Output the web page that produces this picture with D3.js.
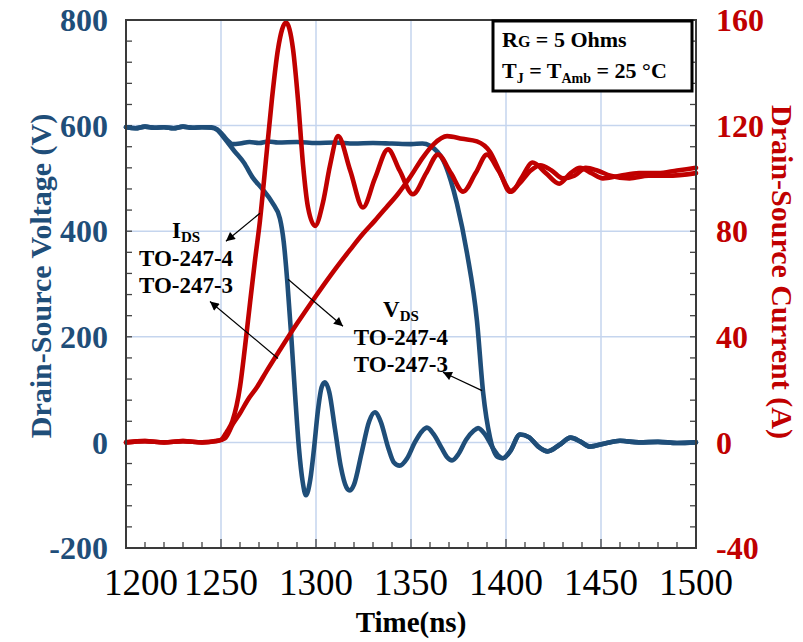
<!DOCTYPE html>
<html>
<head>
<meta charset="utf-8">
<script src="https://cdn.jsdelivr.net/npm/d3@7"></script>
<style>
  body { margin: 0; background: #fff; }
  svg text { font-family: "Liberation Serif", "Times New Roman", serif; }
</style>
</head>
<body>
<div id="chart"></div>
<script>
'use strict';

// ---- data (time in ns) ----
const timeTicks = [1200, 1250, 1300, 1350, 1400, 1450, 1500];
const voltTicks = [-200, 0, 200, 400, 600, 800];
const ampTicks = [-40, 0, 40, 80, 120, 160];

const vdsTO2474 = [
  [1200, 597], [1205, 595], [1210, 598], [1215, 596], [1220, 597], [1225, 595], [1230, 598],
  [1235, 596], [1240, 597], [1245, 596], [1248, 592], [1252, 575], [1257, 552], [1262, 530],
  [1267, 500], [1271.5, 481], [1277, 454], [1281, 424], [1283, 380], [1285, 300], [1287, 200],
  [1289, 90], [1291, -10], [1293, -75], [1294.7, -100], [1297, -70], [1299, -10], [1301, 60],
  [1303, 105], [1304.7, 114], [1307, 95], [1310, 25], [1313, -45], [1316, -85], [1317.9, -91],
  [1320, -80], [1324, -20], [1328, 40], [1331, 57], [1334, 40], [1338, -10], [1341, -38],
  [1344, -44], [1348, -30], [1352, 0], [1356, 22], [1358.4, 28], [1362, 15], [1366, -10],
  [1369, -28], [1371.6, -34], [1375, -22], [1379, 5], [1383, 22], [1385.3, 27], [1389, 15],
  [1393, -10], [1396, -25], [1398.4, -30], [1402, -18], [1407.4, 15], [1412, 10], [1417, -8],
  [1422, -17], [1428, -5], [1434, 9], [1439, 2], [1444, -8], [1452, -2], [1460, 3], [1470, 0],
  [1480, 1], [1490, -1], [1500, 0]
];

const vdsTO2473 = [
  [1200, 597], [1205, 595], [1210, 598], [1215, 596], [1220, 597], [1225, 595], [1230, 598],
  [1235, 596], [1240, 597], [1245, 597], [1248, 593], [1251, 582], [1254, 570], [1256, 565],
  [1260, 566], [1265, 569], [1270, 567], [1275, 570], [1280, 568], [1290, 569], [1300, 567],
  [1310, 568], [1320, 566], [1330, 567], [1340, 566], [1350, 565], [1356, 566], [1360, 562],
  [1364, 550], [1367, 534], [1371, 495], [1374.2, 452], [1379.5, 358], [1384.7, 231],
  [1388, 93], [1391.6, 9], [1395.8, -28], [1398.4, -30], [1402, -18], [1407.4, 15], [1412, 10],
  [1417, -8], [1422, -17], [1428, -5], [1434, 9], [1439, 2], [1444, -8], [1452, -2], [1460, 3],
  [1470, 0], [1480, 1], [1490, -1], [1500, 0]
];

const idsTO2474 = [
  [1200, 0], [1210, 0.5], [1220, 0], [1230, 0.5], [1240, 0], [1247, 0.5], [1250, 1], [1253, 4],
  [1256, 8], [1260, 21], [1262.6, 36], [1265.3, 53], [1267.9, 69], [1270.5, 84], [1274.2, 111],
  [1276.8, 130], [1280, 149], [1284.2, 159], [1287.9, 149], [1290.5, 130], [1293.2, 105],
  [1295.8, 89], [1299.5, 82], [1303.7, 91], [1307.4, 105], [1311.6, 116], [1318, 103],
  [1324.7, 89], [1331, 100], [1337.9, 111], [1344, 103], [1351, 94], [1358, 102], [1364.2, 109],
  [1371, 102], [1377.4, 95], [1384, 102], [1390, 109], [1396, 103], [1403, 95], [1408, 100],
  [1414, 106], [1421, 102], [1428, 98], [1434, 102], [1439, 104], [1445, 102], [1451, 100],
  [1460, 101], [1470, 102], [1480, 102], [1490, 103], [1500, 104]
];

const idsTO2473 = [
  [1200, 0], [1210, 0.5], [1220, 0], [1230, 0.5], [1240, 0], [1248, 0.5], [1252, 1.5],
  [1256.3, 7], [1260, 11], [1264, 16], [1269, 21], [1274, 27], [1281, 35], [1290, 45],
  [1299.5, 55], [1307.4, 63], [1312.6, 68], [1318, 73], [1324.7, 79], [1331, 84], [1337, 89],
  [1343, 94], [1350, 101], [1356.3, 108], [1362, 113], [1369, 116], [1377, 115], [1384.7, 114],
  [1391.6, 110], [1397, 102], [1402, 95], [1407, 98], [1413, 103], [1418, 105], [1424, 103],
  [1430, 100], [1436, 101], [1442, 104], [1448, 103], [1455, 101], [1465, 100], [1475, 101],
  [1485, 101], [1500, 102]
];

// annotations: label anchor [t, V] and arrows [[t0,V0],[t1,V1]] on the voltage scale
const idsLabel = [1231.6, 388];
const vdsLabel = [1344.7, 237];
const arrows = [
  [[1270.5, 434], [1252.6, 381]],
  [[1280, 159], [1244.2, 267]],
  [[1285.3, 309], [1314.2, 220]],
  [[1387.4, 98], [1366.8, 133]]
];

(function () {

  const blue = '#1f4e79';
  const red = '#c00000';
  const W = 803, H = 642;
  const left = 126, right = 696, plotTop = 20, bottom = 548;

  const x = d3.scaleLinear().domain([1200, 1500]).range([left, right]);
  const yV = d3.scaleLinear().domain([-200, 800]).range([bottom, plotTop]);
  const yI = d3.scaleLinear().domain([-40, 160]).range([bottom, plotTop]);

  const svg = d3.select('#chart').append('svg')
    .attr('width', W).attr('height', H);

  svg.append('defs').append('marker')
    .attr('id', 'head')
    .attr('viewBox', '0 0 10 10')
    .attr('refX', 10).attr('refY', 5)
    .attr('markerWidth', 11).attr('markerHeight', 9)
    .attr('markerUnits', 'userSpaceOnUse')
    .attr('orient', 'auto')
    .append('path').attr('d', 'M0,0 L10,5 L0,10 z').attr('fill', '#000');

  // grid
  const grid = svg.append('g').attr('stroke', '#c5d5ee').attr('stroke-width', 1.5);
  grid.selectAll('line.v').data(timeTicks.slice(1, -1)).enter().append('line')
    .attr('x1', d => x(d)).attr('x2', d => x(d)).attr('y1', plotTop).attr('y2', bottom);
  grid.selectAll('line.h').data(voltTicks.slice(1, -1)).enter().append('line')
    .attr('y1', d => yV(d)).attr('y2', d => yV(d)).attr('x1', left).attr('x2', right);

  // minor / major ticks pointing inward
  const tickG = svg.append('g').attr('stroke', '#444').attr('stroke-width', 1.3);
  tickG.selectAll('line.b').data(d3.range(1200, 1501, 10)).enter().append('line')
    .attr('x1', d => x(d)).attr('x2', d => x(d))
    .attr('y1', bottom).attr('y2', d => bottom - (d % 50 === 0 ? 9 : 6));
  tickG.selectAll('line.l').data(d3.range(-200, 801, 40)).enter().append('line')
    .attr('x1', left).attr('x2', left + 6)
    .attr('y1', d => yV(d)).attr('y2', d => yV(d));
  tickG.selectAll('line.r').data(d3.range(-40, 161, 8)).enter().append('line')
    .attr('x1', right).attr('x2', right - 6)
    .attr('y1', d => yI(d)).attr('y2', d => yI(d));

  // traces
  const lineV = d3.line().x(d => x(d[0])).y(d => yV(d[1])).curve(d3.curveMonotoneX);
  const lineI = d3.line().x(d => x(d[0])).y(d => yI(d[1])).curve(d3.curveMonotoneX);

  const traces = svg.append('g').attr('fill', 'none').attr('stroke-width', 4.6)
    .attr('stroke-linejoin', 'round').attr('stroke-linecap', 'round');
  [vdsTO2473, vdsTO2474].forEach(s => traces.append('path').attr('d', lineV(s)).attr('stroke', blue));
  [idsTO2473, idsTO2474].forEach(s => traces.append('path').attr('d', lineI(s)).attr('stroke', red));

  // frame
  svg.append('rect')
    .attr('x', left).attr('y', plotTop).attr('width', right - left).attr('height', bottom - plotTop)
    .attr('fill', 'none').attr('stroke', '#3a3a3a').attr('stroke-width', 2);

  // tick labels
  svg.append('g').selectAll('text').data(voltTicks).enter().append('text')
    .attr('x', 108).attr('y', d => yV(d)).attr('dy', '0.35em')
    .attr('text-anchor', 'end').attr('font-size', 32).attr('font-weight', 'bold')
    .attr('fill', blue).text(d => d);

  svg.append('g').selectAll('text').data(ampTicks).enter().append('text')
    .attr('x', 716).attr('y', d => yI(d)).attr('dy', '0.35em')
    .attr('text-anchor', 'start').attr('font-size', 32).attr('font-weight', 'bold')
    .attr('fill', red).text(d => d);

  // the first time label sits a little right of its tick in the original
  svg.append('g').selectAll('text').data(timeTicks).enter().append('text')
    .attr('x', (d, i) => x(d) + (i === 0 ? 15 : 0)).attr('y', 595)
    .attr('text-anchor', 'middle').attr('font-size', 37)
    .attr('fill', '#000').text(d => d);

  // axis titles
  svg.append('text')
    .attr('transform', `translate(51, 276) rotate(-90)`)
    .attr('text-anchor', 'middle').attr('font-size', 30).attr('font-weight', 'bold')
    .attr('fill', blue).text('Drain-Source Voltage (V)');

  svg.append('text')
    .attr('transform', `translate(772, 272) rotate(90)`)
    .attr('text-anchor', 'middle').attr('font-size', 30).attr('font-weight', 'bold')
    .attr('fill', red).text('Drain-Source Current (A)');

  svg.append('text')
    .attr('x', (left + right) / 2).attr('y', 632)
    .attr('text-anchor', 'middle').attr('font-size', 29).attr('font-weight', 'bold')
    .attr('fill', '#000').text('Time(ns)');

  // annotations
  const note = (pos, name) => {
    const g = svg.append('g').attr('font-size', 23).attr('font-weight', 'bold')
      .attr('text-anchor', 'middle').attr('fill', '#000');
    const cx = x(pos[0]), cy = yV(pos[1]);
    const t = g.append('text').attr('x', cx).attr('y', cy);
    t.append('tspan').text(name);
    t.append('tspan').attr('font-size', 15).attr('dy', 4).text('DS');
    g.append('text').attr('x', cx).attr('y', cy + 28).text('TO-247-4');
    g.append('text').attr('x', cx).attr('y', cy + 55).text('TO-247-3');
  };
  note(idsLabel, 'I');
  note(vdsLabel, 'V');

  svg.append('g').selectAll('line').data(arrows).enter().append('line')
    .attr('x1', d => x(d[0][0])).attr('y1', d => yV(d[0][1]))
    .attr('x2', d => x(d[1][0])).attr('y2', d => yV(d[1][1]))
    .attr('stroke', '#000').attr('stroke-width', 1.2)
    .attr('marker-end', 'url(#head)');

  // conditions box
  const box = svg.append('g');
  box.append('rect')
    .attr('x', 493).attr('y', 21).attr('width', 199).attr('height', 70)
    .attr('fill', '#fff').attr('stroke', '#000').attr('stroke-width', 3);
  const l1 = box.append('text').attr('x', 502).attr('y', 47)
    .attr('font-size', 22).attr('font-weight', 'bold');
  l1.append('tspan').text('R');
  l1.append('tspan').attr('font-size', 16).text('G');
  l1.append('tspan').text(' = 5 Ohms');
  const l2 = box.append('text').attr('x', 502).attr('y', 78)
    .attr('font-size', 22).attr('font-weight', 'bold');
  l2.append('tspan').text('T');
  l2.append('tspan').attr('font-size', 14).attr('dy', 5).text('J');
  l2.append('tspan').attr('dy', -5).text(' = T');
  l2.append('tspan').attr('font-size', 14).attr('dy', 5).text('Amb');
  l2.append('tspan').attr('dy', -5).text(' = 25 °C');

})();
</script>
</body>
</html>
